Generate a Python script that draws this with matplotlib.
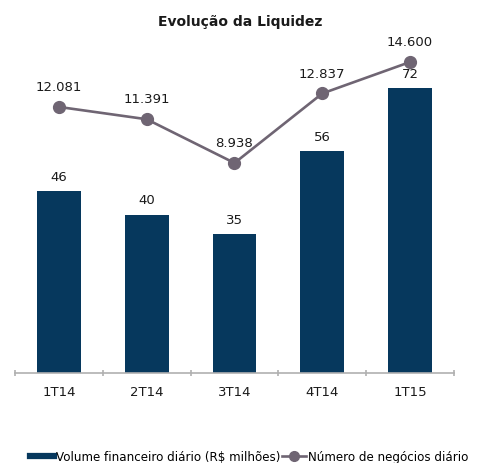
import matplotlib
matplotlib.use("Agg")
import matplotlib.pyplot as plt
from matplotlib.lines import Line2D

categories = ["1T14", "2T14", "3T14", "4T14", "1T15"]
volume = [46, 40, 35, 56, 72]
negocios = [12081, 11391, 8938, 12837, 14600]
negocios_labels = ["12.081", "11.391", "8.938", "12.837", "14.600"]

bar_color = "#06385d"
line_color = "#6f6573"

W, H = 478, 464
fig = plt.figure(figsize=(W / 100, H / 100), dpi=100)
ax_left, ax_right = 15 / W, 454 / W
ax_bottom, ax_top = (H - 374) / H, (H - 30) / H
ax = fig.add_axes([ax_left, ax_bottom, ax_right - ax_left, ax_top - ax_bottom])

x = list(range(len(categories)))
ax.bar(x, volume, width=0.5, color=bar_color, zorder=2)
ax.set_xlim(-0.5, len(categories) - 0.5)
ax.set_ylim(0, 86.9)
for xi, v in zip(x, volume):
    ax.annotate(str(v), (xi, v), xytext=(0, 6), textcoords="offset points",
                ha="center", va="bottom", fontsize=9.5, color="#1a1a1a")

ax2 = ax.twinx()
ax2.plot(x, negocios, color=line_color, lw=1.9, marker="o", ms=8.5, zorder=3)
ax2.set_ylim(-2835, 16450)
for xi, v, lab in zip(x, negocios, negocios_labels):
    ax2.annotate(lab, (xi, v), xytext=(0, 10), textcoords="offset points",
                 ha="center", va="bottom", fontsize=9.5, color="#1a1a1a")

for a in (ax, ax2):
    for s in ("top", "right", "left"):
        a.spines[s].set_visible(False)
    a.set_yticks([])
ax.spines["bottom"].set_color("#b0b0b0")
ax.spines["bottom"].set_linewidth(1.2)
ax2.spines["bottom"].set_visible(False)

ax.set_xticks([i - 0.5 for i in range(len(categories) + 1)], minor=False)
ax.set_xticklabels([""] * (len(categories) + 1))
ax.tick_params(axis="x", which="major", length=5, color="#b0b0b0", width=1.2, direction="inout")
ax.set_xticks(x, minor=True)
ax.set_xticklabels(categories, minor=True, fontsize=9.5, color="#1a1a1a")
ax.tick_params(axis="x", which="minor", length=0, pad=9)

fig.text(240 / W, 1 - 22 / H, "Evolução da Liquidez", ha="center", va="center",
         fontsize=10, fontweight="bold", color="#1a1a1a")

handles = [Line2D([0], [0], color=bar_color, lw=4.5),
           Line2D([0], [0], color=line_color, lw=1.9, marker="o", ms=7)]
labels = ["Volume financeiro diário (R$ milhões)", "Número de negócios diário"]
fig.legend(handles, labels, loc="center left", bbox_to_anchor=(30 / W, 1 - 458 / H),
           ncol=2, frameon=False, fontsize=8.6, handlelength=2.0, handletextpad=0.15,
           columnspacing=0.2, borderaxespad=0, borderpad=0)

fig.savefig("out.png", dpi=100)
